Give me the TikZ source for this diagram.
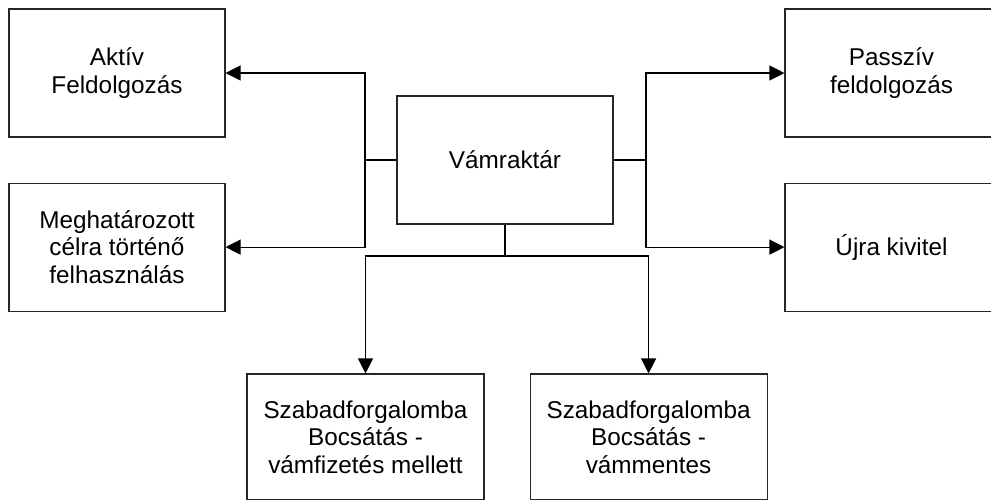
\documentclass[tikz,border=0pt]{standalone}
\usepackage{fontspec}
\setmainfont{Liberation Sans}
\usepackage{tikz}
\usetikzlibrary{arrows.meta,positioning}

\begin{document}
\begin{tikzpicture}[
    x=1pt, y=-1pt,
    font=\fontsize{24.3pt}{27.5pt}\selectfont,
    box/.style={draw=black!85, line width=1.1pt, align=center, inner sep=4pt,
      minimum width=216pt, minimum height=128pt},
    wide/.style={box, minimum width=237pt, minimum height=126pt},
    arrow/.style={-{Triangle[length=15pt,width=15pt]}, line width=1.1pt}
  ]
    \clip (0,0) rectangle (991,499);
    \node[box] (vam) at (505,160) {Vámraktár};
    \node[box] (akt) at (117,73) {Aktív\\Feldolgozás};
    \node[box, below=45pt of akt] (meg) {Meghatározott\\célra történő\\felhasználás};
    \node[box, minimum width=213pt] (pas) at (891.5,73) {Passzív\\feldolgozás};
    \node[box, minimum width=213pt, below=45pt of pas] (ujra) {Újra kivitel};
    \node[wide] (sz1) at (365.5,437) {Szabadforgalomba\\Bocsátás -\\vámfizetés mellett};
    \node[wide, right=45pt of sz1] (sz2) {Szabadforgalomba\\Bocsátás -\\vámmentes};
    % junctions
    \coordinate (jl) at (365,160);
    \coordinate (jr) at (646,160);
    \coordinate (jb) at (505,256);
    \draw[line width=1.1pt] (vam.west) -- (jl);
    \draw[line width=1.1pt] (vam.east) -- (jr);
    \draw[line width=1.1pt] (vam.south) -- (jb);
    \foreach \t in {akt,meg}
      \draw[arrow] (jl) |- (\t.east);
    \foreach \t in {pas,ujra}
      \draw[arrow] (jr) |- (\t.west);
    \foreach \t in {sz1,sz2}
      \draw[arrow] (jb) -| (\t.north);
  \end{tikzpicture}
\end{document}
